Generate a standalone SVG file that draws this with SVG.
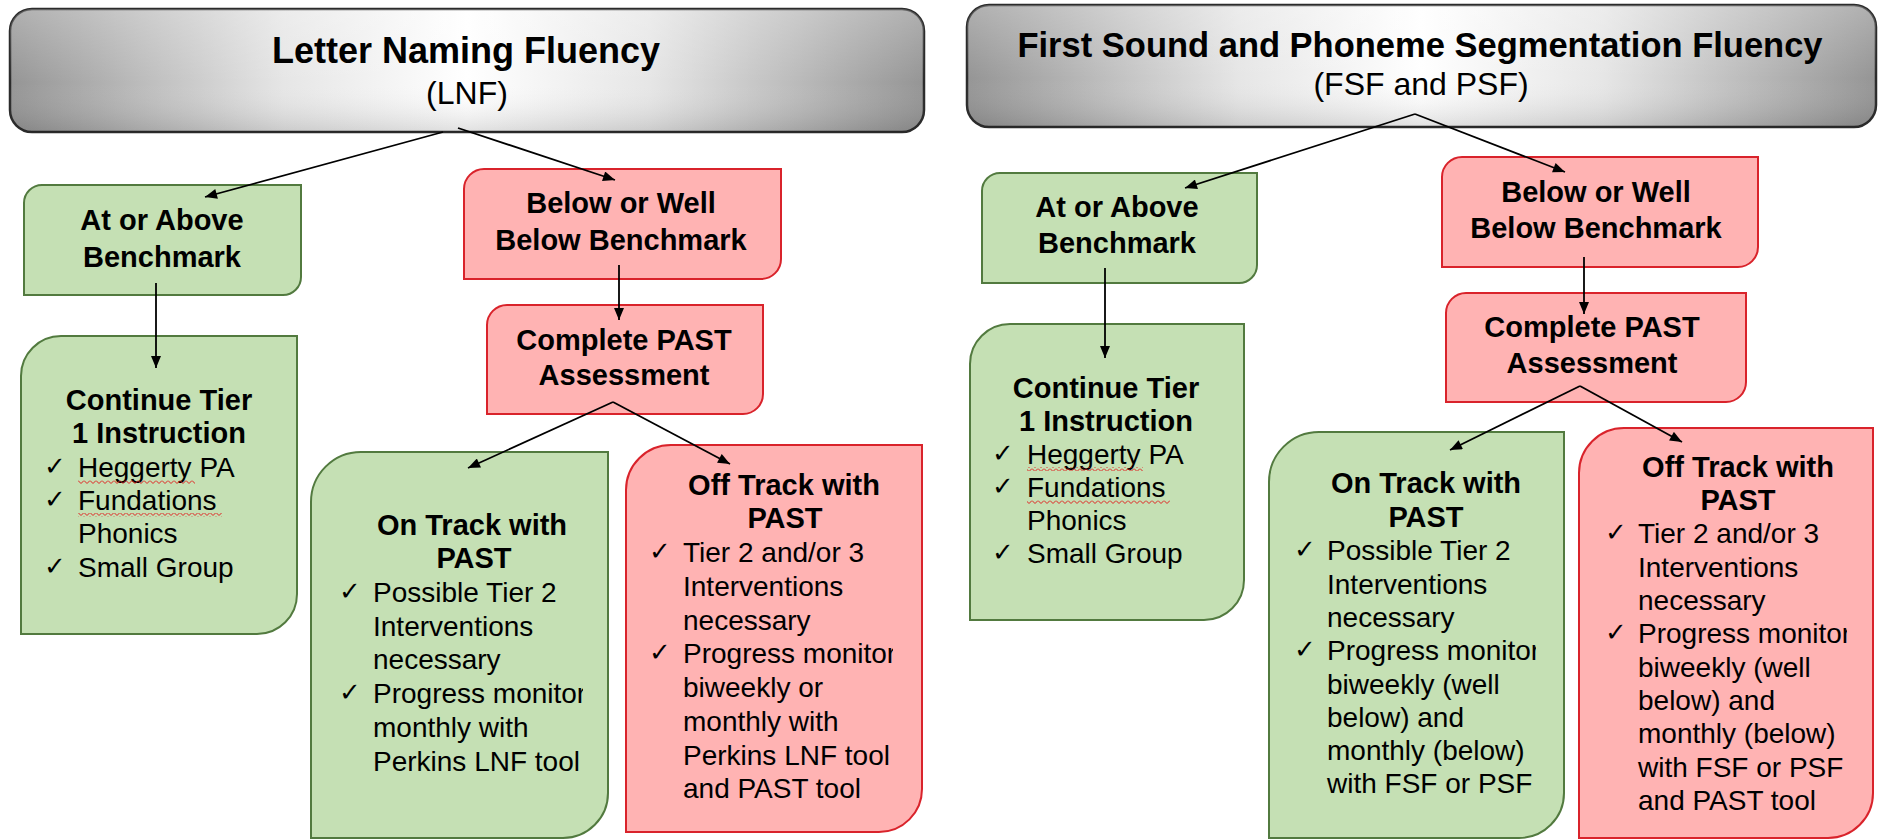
<svg xmlns="http://www.w3.org/2000/svg" width="1881" height="839" viewBox="0 0 1881 839">
<style>
.hdr{stroke:#2b2b2b;stroke-width:2.5}
.g{fill:#c5e0b4;stroke:#527a3f;stroke-width:2}
.r{fill:#ffb3b3;stroke:#d9232b;stroke-width:2}
.tt{font-family:"Liberation Sans",Arial,sans-serif;font-weight:bold;font-size:36px;fill:#000;text-anchor:middle}
.st{font-family:"Liberation Sans",Arial,sans-serif;font-size:32px;fill:#000;text-anchor:middle}
.b{font-family:"Liberation Sans",Arial,sans-serif;font-weight:bold;font-size:29px;fill:#000;text-anchor:middle}
.t{font-family:"Liberation Sans",Arial,sans-serif;font-size:28px;fill:#000}
.ck{font-family:"DejaVu Sans",sans-serif;font-size:26px;fill:#000}
.c{stroke:#000;stroke-width:1.8;fill:none;marker-end:url(#ah)}
</style>
<defs>
<linearGradient id="hg" x1="0" y1="0" x2="1" y2="0">
<stop offset="0" stop-color="#959595"/>
<stop offset="0.3" stop-color="#e6e6e6"/>
<stop offset="0.5" stop-color="#ffffff"/>
<stop offset="0.7" stop-color="#e6e6e6"/>
<stop offset="1" stop-color="#959595"/>
</linearGradient>
<linearGradient id="hv" x1="0" y1="0" x2="0" y2="1">
<stop offset="0" stop-color="#ffffff" stop-opacity="0.25"/>
<stop offset="0.6" stop-color="#ffffff" stop-opacity="0"/>
<stop offset="1" stop-color="#000000" stop-opacity="0.12"/>
</linearGradient>
<marker id="ah" viewBox="0 0 12 10" refX="12" refY="5" markerWidth="13" markerHeight="10" markerUnits="userSpaceOnUse" orient="auto">
<path d="M0,0 L12,5 L0,10 z" fill="#000"/>
</marker>
<pattern id="sq" width="6" height="4" patternUnits="userSpaceOnUse">
<polyline points="0,0.5 3,3.5 6,0.5" fill="none" stroke="#e02020" stroke-width="1"/>
</pattern>
<clipPath id="cpO1"><rect x="300" y="440" width="283" height="400"/></clipPath>
<clipPath id="cpF1"><rect x="620" y="440" width="273" height="400"/></clipPath>
<clipPath id="cpO2"><rect x="1260" y="420" width="276" height="420"/></clipPath>
<clipPath id="cpF2"><rect x="1570" y="420" width="277" height="420"/></clipPath>
</defs>
<rect width="1881" height="839" fill="#ffffff"/>

<g id="header-lnf">
<rect x="10" y="9" width="914" height="123" rx="22" fill="url(#hg)" class="hdr"/>
<rect x="10" y="9" width="914" height="123" rx="22" fill="url(#hv)"/>
<text class="tt" x="466" y="63">Letter Naming Fluency</text>
<text class="st" x="467" y="104">(LNF)</text>
</g>

<g id="header-fsf">
<rect x="967" y="5" width="909" height="122" rx="22" fill="url(#hg)" class="hdr"/>
<rect x="967" y="5" width="909" height="122" rx="22" fill="url(#hv)"/>
<text class="tt" x="1420" y="57" style="font-size:34.5px">First Sound and Phoneme Segmentation Fluency</text>
<text class="st" x="1421" y="95">(FSF and PSF)</text>
</g>

<g id="lnf-above">
<path class="g" d="M42,185 H301 V277 A18,18 0 0 1 283,295 H24 V203 A18,18 0 0 1 42,185 Z"/>
<text class="b" x="162" y="230">At or Above</text>
<text class="b" x="162" y="267">Benchmark</text>
</g>

<g id="lnf-below">
<path class="r" d="M484,169 H781 V259 A20,20 0 0 1 761,279 H464 V189 A20,20 0 0 1 484,169 Z"/>
<text class="b" x="621" y="213">Below or Well</text>
<text class="b" x="621" y="250">Below Benchmark</text>
</g>

<g id="lnf-past">
<path class="r" d="M507,305 H763 V394 A20,20 0 0 1 743,414 H487 V325 A20,20 0 0 1 507,305 Z"/>
<text class="b" x="624" y="350">Complete PAST</text>
<text class="b" x="624" y="385">Assessment</text>
</g>

<g id="lnf-tier1">
<path class="g" d="M61,336 H297 V594 A40,40 0 0 1 257,634 H21 V376 A40,40 0 0 1 61,336 Z"/>
<text class="b" x="159" y="410">Continue Tier</text>
<text class="b" x="159" y="443">1 Instruction</text>
<text class="ck" x="44" y="475">✓</text><text class="t" x="78" y="477">Heggerty PA</text>
<rect x="78" y="480" width="117" height="4" fill="url(#sq)"/>
<text class="ck" x="44" y="508">✓</text><text class="t" x="78" y="510">Fundations</text>
<rect x="78" y="513" width="144" height="4" fill="url(#sq)"/>
<text class="t" x="78" y="543">Phonics</text>
<text class="ck" x="44" y="575">✓</text><text class="t" x="78" y="577">Small Group</text>
</g>

<g id="lnf-ontrack">
<path class="g" d="M361,452 H608 V793 A45,45 0 0 1 563,838 H311 V502 A50,50 0 0 1 361,452 Z"/>
<text class="b" x="472" y="535">On Track with</text>
<text class="b" x="474" y="568">PAST</text>
<text class="ck" x="339" y="600">✓</text><text class="t" x="373" y="602">Possible Tier 2</text>
<text class="t" x="373" y="636">Interventions</text>
<text class="t" x="373" y="669">necessary</text>
<text class="ck" x="339" y="701">✓</text><text class="t" x="373" y="703" clip-path="url(#cpO1)">Progress monitor</text>
<text class="t" x="373" y="737">monthly with</text>
<text class="t" x="373" y="771">Perkins LNF tool</text>
</g>

<g id="lnf-offtrack">
<path class="r" d="M671,445 H922 V789 A43,43 0 0 1 879,832 H626 V490 A45,45 0 0 1 671,445 Z"/>
<text class="b" x="784" y="495">Off Track with</text>
<text class="b" x="785" y="528">PAST</text>
<text class="ck" x="649" y="560">✓</text><text class="t" x="683" y="562">Tier 2 and/or 3</text>
<text class="t" x="683" y="596">Interventions</text>
<text class="t" x="683" y="630">necessary</text>
<text class="ck" x="649" y="661">✓</text><text class="t" x="683" y="663" clip-path="url(#cpF1)">Progress monitor</text>
<text class="t" x="683" y="697">biweekly or</text>
<text class="t" x="683" y="731">monthly with</text>
<text class="t" x="683" y="765">Perkins LNF tool</text>
<text class="t" x="683" y="798">and PAST tool</text>
</g>

<g id="fsf-above">
<path class="g" d="M1000,173 H1257 V265 A18,18 0 0 1 1239,283 H982 V191 A18,18 0 0 1 1000,173 Z"/>
<text class="b" x="1117" y="217">At or Above</text>
<text class="b" x="1117" y="253">Benchmark</text>
</g>

<g id="fsf-below">
<path class="r" d="M1462,157 H1758 V247 A20,20 0 0 1 1738,267 H1442 V177 A20,20 0 0 1 1462,157 Z"/>
<text class="b" x="1596" y="202">Below or Well</text>
<text class="b" x="1596" y="238">Below Benchmark</text>
</g>

<g id="fsf-past">
<path class="r" d="M1466,293 H1746 V382 A20,20 0 0 1 1726,402 H1446 V313 A20,20 0 0 1 1466,293 Z"/>
<text class="b" x="1592" y="337">Complete PAST</text>
<text class="b" x="1592" y="373">Assessment</text>
</g>

<g id="fsf-tier1">
<path class="g" d="M1010,324 H1244 V580 A40,40 0 0 1 1204,620 H970 V364 A40,40 0 0 1 1010,324 Z"/>
<text class="b" x="1106" y="398">Continue Tier</text>
<text class="b" x="1106" y="431">1 Instruction</text>
<text class="ck" x="992" y="462">✓</text><text class="t" x="1027" y="464">Heggerty PA</text>
<rect x="1027" y="467" width="116" height="4" fill="url(#sq)"/>
<text class="ck" x="992" y="495">✓</text><text class="t" x="1027" y="497">Fundations</text>
<rect x="1027" y="500" width="143" height="4" fill="url(#sq)"/>
<text class="t" x="1027" y="530">Phonics</text>
<text class="ck" x="992" y="561">✓</text><text class="t" x="1027" y="563">Small Group</text>
</g>

<g id="fsf-ontrack">
<path class="g" d="M1319,432 H1564 V793 A45,45 0 0 1 1519,838 H1269 V482 A50,50 0 0 1 1319,432 Z"/>
<text class="b" x="1426" y="493">On Track with</text>
<text class="b" x="1426" y="527">PAST</text>
<text class="ck" x="1294" y="558">✓</text><text class="t" x="1327" y="560">Possible Tier 2</text>
<text class="t" x="1327" y="594">Interventions</text>
<text class="t" x="1327" y="627">necessary</text>
<text class="ck" x="1294" y="658">✓</text><text class="t" x="1327" y="660" clip-path="url(#cpO2)">Progress monitor</text>
<text class="t" x="1327" y="694">biweekly (well</text>
<text class="t" x="1327" y="727">below) and</text>
<text class="t" x="1327" y="760">monthly (below)</text>
<text class="t" x="1327" y="793">with FSF or PSF</text>
</g>

<g id="fsf-offtrack">
<path class="r" d="M1624,428 H1873 V793 A45,45 0 0 1 1828,838 H1579 V473 A45,45 0 0 1 1624,428 Z"/>
<text class="b" x="1738" y="477">Off Track with</text>
<text class="b" x="1738" y="510">PAST</text>
<text class="ck" x="1605" y="541">✓</text><text class="t" x="1638" y="543">Tier 2 and/or 3</text>
<text class="t" x="1638" y="577">Interventions</text>
<text class="t" x="1638" y="610">necessary</text>
<text class="ck" x="1605" y="641">✓</text><text class="t" x="1638" y="643" clip-path="url(#cpF2)">Progress monitor</text>
<text class="t" x="1638" y="677">biweekly (well</text>
<text class="t" x="1638" y="710">below) and</text>
<text class="t" x="1638" y="743">monthly (below)</text>
<text class="t" x="1638" y="777">with FSF or PSF</text>
<text class="t" x="1638" y="810">and PAST tool</text>
</g>

<g id="connectors">
<line class="c" x1="443" y1="132" x2="205" y2="197"/>
<line class="c" x1="458" y1="128" x2="615" y2="180"/>
<line class="c" x1="156" y1="283" x2="156" y2="368"/>
<line class="c" x1="619" y1="265" x2="619" y2="320"/>
<line class="c" x1="613" y1="402" x2="468" y2="468"/>
<line class="c" x1="613" y1="402" x2="730" y2="464"/>
<line class="c" x1="1415" y1="114" x2="1185" y2="188"/>
<line class="c" x1="1415" y1="114" x2="1565" y2="172"/>
<line class="c" x1="1105" y1="268" x2="1105" y2="358"/>
<line class="c" x1="1584" y1="257" x2="1584" y2="314"/>
<line class="c" x1="1580" y1="386" x2="1450" y2="450"/>
<line class="c" x1="1580" y1="386" x2="1682" y2="442"/>
</g>
</svg>
